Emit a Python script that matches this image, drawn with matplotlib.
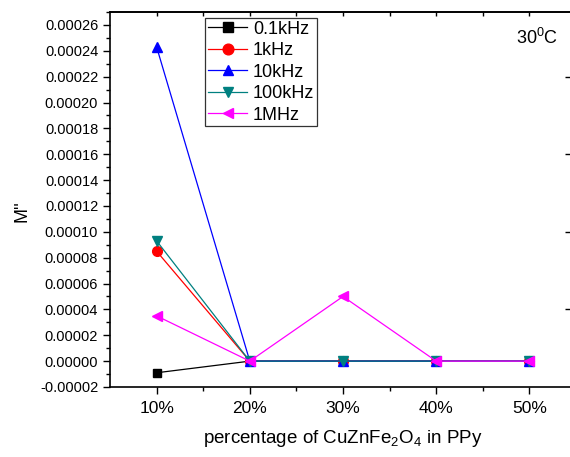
import matplotlib
matplotlib.use("Agg")
import matplotlib.pyplot as plt
from matplotlib.ticker import MultipleLocator, FixedLocator, FuncFormatter

plt.rcParams['font.family'] = ['Liberation Sans', 'DejaVu Sans']
plt.rcParams['mathtext.fontset'] = 'custom'
plt.rcParams['mathtext.rm'] = 'Liberation Sans'
plt.rcParams['mathtext.it'] = 'Liberation Sans:italic'
plt.rcParams['mathtext.default'] = 'regular'

categories = ["10%", "20%", "30%", "40%", "50%"]
labels = ["0.1kHz", "1kHz", "10kHz", "100kHz", "1MHz"]
s_01k = [-0.000009, 0.0, 0.0, 0.0, 0.0]
s_1k = [0.000085, 0.0, 0.0, 0.0, 0.0]
s_10k = [0.000243, 0.0, 0.0, 0.0, 0.0]
s_100k = [0.000093, 0.0, 0.0, 0.0, 0.0]
s_1M = [0.000035, 0.0, 0.00005, 0.0, 0.0]

series = [s_01k, s_1k, s_10k, s_100k, s_1M]
colors = ["black", "red", "blue", "#008080", "magenta"]
markers = ["s", "o", "^", "v", "<"]
msizes = [6, 7, 7, 7, 7]

fig = plt.figure(figsize=(5.7, 4.57), dpi=100)
ax = fig.add_axes([110/570, 1-387/457, (576-110)/570, (387-12)/457])

x = list(range(1, len(categories)+1))
for s, c, m, ms, l in zip(series, colors, markers, msizes, labels):
    ax.plot(x, s, color=c, marker=m, markersize=ms, linewidth=0.9, label=l)

ax.set_xlim(0.5, 5.5)
ax.set_ylim(-0.00002, 0.00027)
ax.set_xticks(x)
ax.set_xticklabels(categories)
ax.xaxis.set_minor_locator(FixedLocator([1.5, 2.5, 3.5, 4.5]))
ax.yaxis.set_major_locator(MultipleLocator(0.00002))
ax.yaxis.set_minor_locator(MultipleLocator(0.00001))
ax.yaxis.set_major_formatter(FuncFormatter(lambda v, p: f"{v:.5f}"))

ax.tick_params(axis='both', which='major', direction='out', length=5, width=1)
ax.tick_params(axis='both', which='minor', direction='out', length=3, width=1)
ax.tick_params(axis='y', which='major', labelsize=10.5, pad=3.5)
ax.tick_params(axis='x', which='major', labelsize=12.5, pad=5)
for sp in ax.spines.values():
    sp.set_linewidth(1.2)

secx = ax.secondary_xaxis('top')
secx.set_xticks(x)
secx.set_xticklabels([])
secx.xaxis.set_minor_locator(FixedLocator([1.5, 2.5, 3.5, 4.5]))
secx.tick_params(which='both', direction='in', length=3, width=1)
secx.spines['top'].set_linewidth(1.2)

secy = ax.secondary_yaxis('right')
secy.set_yticks([0.00004, 0.0001, 0.00016, 0.00022])
secy.set_yticklabels([])
secy.tick_params(which='both', direction='in', length=8, width=1)
secy.yaxis.set_minor_locator(FixedLocator([]))

ax.set_xlabel("percentage of CuZnFe$_2$O$_4$ in PPy", fontsize=13.5, labelpad=9)
fig.text(21.5/570, 1-211/457, "M''", rotation=90, fontsize=13, ha='center', va='center')

ax.text((558-110)/466, 1-(38-12)/375, "30$^0$C", transform=ax.transAxes,
        fontsize=13, ha='right', va='center')

leg = ax.legend(loc='upper left', fontsize=13, frameon=True, fancybox=False, edgecolor='black',
                handlelength=2.2, borderpad=0.15, labelspacing=0.25, handletextpad=0.3,
                borderaxespad=0, markerscale=1.1)
leg.set_bbox_to_anchor(((205-110)/466, 1-(18-12)/375), transform=ax.transAxes)
leg.get_frame().set_linewidth(0.9)

fig.savefig("out.png", dpi=100)
